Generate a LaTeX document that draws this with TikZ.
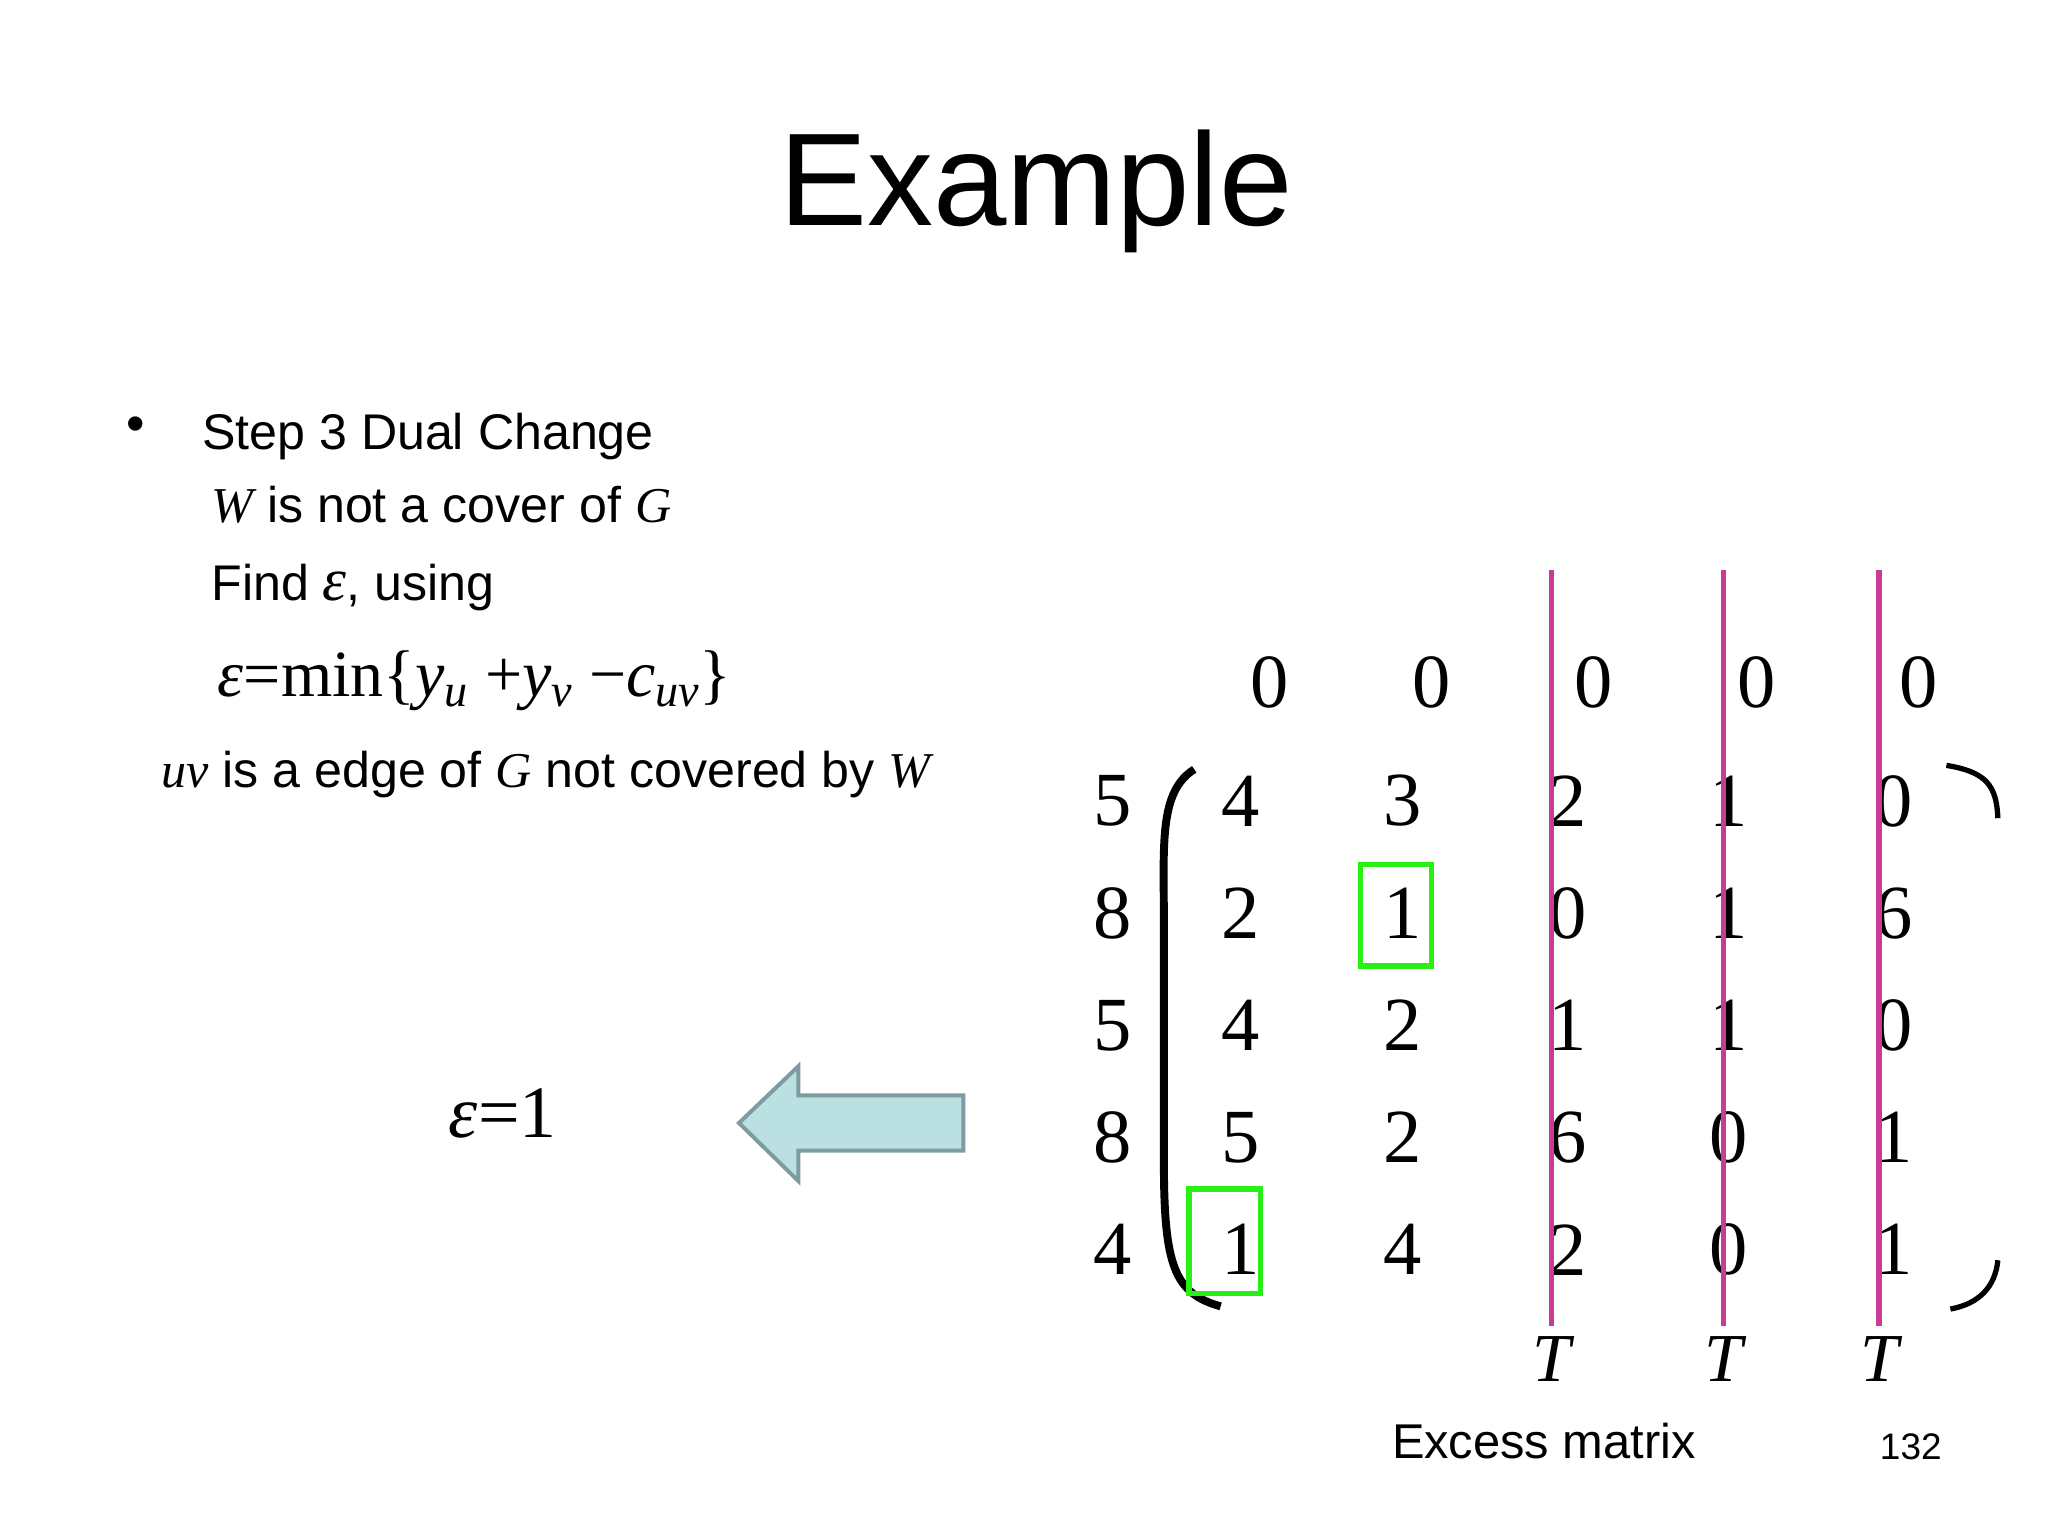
\documentclass[tikz,border=0pt]{standalone}
\usepackage{fontspec}
\setmainfont{Liberation Serif}
\newfontfamily\sansf{Liberation Sans}
\newcommand{\ie}[1]{{\rmfamily\itshape #1}}
\newcommand{\sbs}[1]{\textsubscript{\itshape #1}}
\begin{document}
\begin{tikzpicture}[x=1pt,y=-1pt,
  txt/.style={font=\sansf\fontsize{38}{44}\selectfont,anchor=base west,inner sep=0},
  num/.style={font=\fontsize{58}{66}\selectfont,inner sep=0},
  mg/.style={draw={rgb,255:red,200;green,60;blue,150},line width=4},
  gb/.style={draw={rgb,255:red,40;green,240;blue,20},line width=4}]
\useasboundingbox (0,0) rectangle (1552,1164);
\node[font=\sansf\fontsize{100}{110}\selectfont] (title) at (785,145) {Example};
\node[font=\sansf\fontsize{40}{44}\selectfont] (bul) at (103,325) {•};
\node[txt] (s1) at (153,341) {Step 3 Dual Change};
\node[txt] (s2) at (160,396) {\ie{W} is not a cover of \ie{G}};
\node[txt] (s3) at (160,455) {Find {\fontsize{46}{50}\selectfont\ie{ε}}, using};
\node[font=\fontsize{50}{56}\selectfont,anchor=base west,inner sep=0] (f) at (165,528) {\ie{ε}=min\{\ie{y}\sbs{u} +\ie{y}\sbs{v} −\ie{c}\sbs{uv}\}};
\node[txt] (s4) at (122,597) {\ie{uv} is a edge of \ie{G} not covered by \ie{W}};
\node[font=\fontsize{56}{60}\selectfont,anchor=base west,inner sep=0] (eps) at (340,862) {\ie{ε}=1};
\draw[fill={rgb,255:red,186;green,224;blue,226},draw={rgb,255:red,125;green,155;blue,160},line width=3]
 (560,851) -- (605,808) -- (605,830) -- (730,830) -- (730,872) -- (605,872) -- (605,895) -- cycle;
\foreach \x/\n in {962/a,1085/b,1208/c,1331/d,1454/e} \node[num] (h\n) at (\x,517) {0};
\foreach \y/\v [count=\i] in {607/5,692/8,777/5,862/8,947/4} \node[num] (r\i) at (843,\y) {\v};
\foreach \row [count=\i] in {{4,3,2,1,0},{2,1,0,1,6},{4,2,1,1,0},{5,2,6,0,1},{1,4,2,0,1}}{
  \foreach \v [count=\j] in \row {
    \pgfmathsetmacro\xx{{940,1063,1188,1310,1435}[\j-1]}
    \pgfmathsetmacro\yy{{607,692,777,862,947}[\i-1]}
    \node[num] (m\i\j) at (\xx,\yy) {\v};
  }}
\draw[line width=6] (905,583) .. controls (878,600) and (882,640) .. (882,700) -- (882,880) .. controls (882,960) and (890,980) .. (925,990);
\draw[line width=4] (1475,580) .. controls (1505,585) and (1513,595) .. (1514,620);
\draw[line width=4] (1514,955) .. controls (1512,975) and (1500,988) .. (1478,992);
\foreach \x/\n in {1176/1,1306/2,1424/3}{
  \coordinate (t\n) at (\x,432);
  \node[font=\itshape\fontsize{52}{56}\selectfont,inner sep=0] (T\n) at (\x,1030) {T};
  \draw[mg] (t\n) -- (\x,1005);
}
\draw[gb] (1031,655) rectangle (1085,732);
\draw[gb] (901,901) rectangle (955,980);
\node[font=\sansf\fontsize{37}{44}\selectfont] (ex) at (1170,1092) {Excess matrix};
\node[font=\sansf\fontsize{28}{32}\selectfont] (pg) at (1448,1096) {132};
\end{tikzpicture}
\end{document}
